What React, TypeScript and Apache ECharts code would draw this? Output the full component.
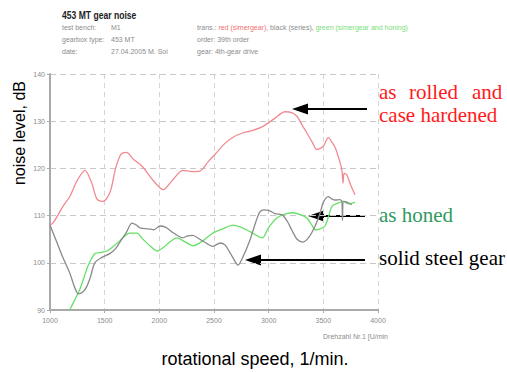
import React, { useEffect, useRef } from "react";
import * as echarts from "echarts";

const xTicks = [1000, 1500, 2000, 2500, 3000, 3500, 4000];
const yTicks = [90, 100, 110, 120, 130, 140];

const redRpm = [1000, 1030, 1120, 1180, 1250, 1320, 1380, 1430, 1485, 1550, 1600, 1650, 1700, 1760, 1840, 1960, 2035, 2120, 2215, 2300, 2370, 2450, 2510, 2600, 2675, 2760, 2830, 2940, 3050, 3150, 3210, 3260, 3310, 3350, 3400, 3440, 3500, 3545, 3580, 3610, 3650, 3670, 3680, 3690, 3715, 3750, 3790];
const redDb = [108, 108.5, 112, 114, 117.5, 119.6, 117, 113.5, 113, 115, 120, 123, 123.4, 122, 120.5, 117, 115.5, 117.5, 119.6, 119.3, 119.4, 121.5, 123, 125.3, 126.6, 127.5, 127.9, 128.8, 130.5, 132, 131.8, 131, 129, 127.5, 125.5, 124, 124.7, 126.5, 125.5, 124.3, 121.5, 119.6, 116.9, 119, 118.6, 116.5, 114.4];

const blackRpm = [1000, 1060, 1120, 1183, 1230, 1260, 1300, 1335, 1370, 1410, 1480, 1550, 1600, 1640, 1700, 1750, 1790, 1823, 1900, 1950, 2005, 2060, 2130, 2215, 2260, 2305, 2370, 2440, 2490, 2555, 2600, 2650, 2700, 2720, 2760, 2830, 2880, 2920, 2960, 3010, 3060, 3120, 3170, 3210, 3260, 3315, 3370, 3425, 3470, 3500, 3545, 3580, 3610, 3650, 3670, 3675, 3685, 3720, 3760];
const blackDb = [108, 104.5, 101, 97.7, 94.5, 93.4, 93.8, 94.9, 97, 100, 101.2, 102, 103, 104.4, 106.5, 108.4, 108, 107.4, 107.2, 107, 107.8, 107.5, 106.3, 105.3, 105.7, 105.8, 105, 104, 103.5, 104.2, 103.8, 102, 100, 99.5, 101, 104.9, 108.5, 110.8, 111.2, 111, 110.4, 110.2, 108.8, 107, 105, 104.4, 105.5, 107.8, 110.5, 112.8, 114, 113.5, 113.3, 113.4, 113, 109, 113, 112.8, 112.3];

const greenRpm = [1180, 1230, 1275, 1320, 1350, 1410, 1470, 1520, 1580, 1640, 1690, 1730, 1795, 1850, 1920, 1980, 2040, 2100, 2160, 2230, 2310, 2400, 2490, 2580, 2675, 2750, 2830, 2940, 3000, 3075, 3150, 3220, 3290, 3350, 3400, 3425, 3470, 3515, 3550, 3580, 3630, 3680, 3730, 3790];
const greenDb = [90, 92.3, 94.5, 97.5, 99.5, 101.9, 102.2, 102.5, 103.5, 104.7, 105.8, 106.3, 106.3, 105, 103.5, 102.5, 103.3, 104.5, 105.3, 104.5, 103.6, 104.7, 106.3, 107.2, 108, 107.5, 106.6, 105.3, 107.5, 109.5, 110.3, 110.6, 110.2, 109.5, 107.8, 107, 107.2, 107.8, 110, 112, 112.6, 113, 112.5, 112.8];

const pairs = (xs: number[], ys: number[]) => xs.map((x, i) => [x, ys[i]]);

const sans = "Liberation Sans, Arial, sans-serif";
const serif = "Liberation Serif, Times New Roman, serif";
const grey = "#8c8c8c";

function arrow(x1: number, x2: number, y: number) {
  return [
    { type: "line", shape: { x1, y1: y, x2: x2 + 12, y2: y }, style: { stroke: "#000", lineWidth: 2.2 } },
    { type: "polygon", shape: { points: [[x2, y], [x2 + 16, y - 5.5], [x2 + 16, y + 5.5]] }, style: { fill: "#000" } },
  ];
}

function txt(x: number, y: number, text: string, size: number, color: string, font = sans, weight = "normal", align = "left", scaleX = 1) {
  return {
    type: "text",
    x,
    y,
    scaleX,
    style: { text, fontSize: size, fill: color, fontFamily: font, fontWeight: weight, textAlign: align, textVerticalAlign: "middle" },
  };
}

export default function App() {
  const ref = useRef<HTMLDivElement>(null);
  useEffect(() => {
    if (!ref.current) return;
    const chart = echarts.init(ref.current, null, { renderer: "svg" });
    chart.setOption({
      animation: false,
      backgroundColor: "#fff",
      grid: { left: 50, right: 129, top: 74, bottom: 62 },
      xAxis: {
        type: "value",
        min: xTicks[0],
        max: xTicks[xTicks.length - 1],
        interval: 500,
        axisLine: { lineStyle: { color: "#aaa", width: 2 } },
        axisTick: { show: true, length: 3, lineStyle: { color: "#aaa" } },
        axisLabel: { fontSize: 7, color: grey, margin: 7, fontFamily: sans, formatter: (v: number) => String(v) },
        splitLine: { show: true, lineStyle: { color: "#d4d4d4", type: [5, 4] } },
      },
      yAxis: {
        type: "value",
        min: yTicks[0],
        max: yTicks[yTicks.length - 1],
        interval: 10,
        axisLine: { show: true, lineStyle: { color: "#aaa", width: 2 } },
        axisTick: { show: true, length: 3, lineStyle: { color: "#aaa" } },
        axisLabel: { fontSize: 7, color: grey, margin: 5, fontFamily: sans },
        splitLine: { show: true, lineStyle: { color: "#c8c8c8", type: [6, 4] } },
      },
      series: [
        { type: "line", data: pairs(redRpm, redDb), smooth: 0.3, showSymbol: false, lineStyle: { color: "#f08a90", width: 1.3 } },
        { type: "line", data: pairs(greenRpm, greenDb), smooth: 0.3, showSymbol: false, lineStyle: { color: "#66e066", width: 1.3 } },
        { type: "line", data: pairs(blackRpm, blackDb), smooth: 0.3, showSymbol: false, lineStyle: { color: "#8a8a8a", width: 1.3 } },
      ],
      graphic: [
        txt(62, 15, "453 MT gear noise", 11, "#222", sans, "bold", "left", 0.78),
        txt(62, 27, "test bench:", 7, grey),
        txt(111, 27, "M1", 7, grey),
        txt(62, 39, "gearbox type:", 7, grey),
        txt(111, 39, "453 MT", 7, grey),
        txt(62, 51, "date:", 7, grey),
        txt(111, 51, "27.04.2005 M. Soi", 7, grey),
        {
          type: "text",
          x: 197,
          y: 27,
          style: {
            text: "{k|trans.: }{r|red (simergear)}{k|, black (series), }{g|green (simergear and honing)}",
            fontSize: 7,
            fontFamily: sans,
            textVerticalAlign: "middle",
            rich: { k: { fill: grey, fontSize: 7 }, r: { fill: "#f07070", fontSize: 7 }, g: { fill: "#7ae07a", fontSize: 7 } },
          },
        },
        txt(197, 39, "order: 39th order", 7, grey),
        txt(197, 51, "gear: 4th-gear drive", 7, grey),
        {
          type: "text",
          x: 19,
          y: 133,
          rotation: Math.PI / 2,
          style: { text: "noise level, dB", fontSize: 16, fill: "#000", fontFamily: sans, textAlign: "center", textVerticalAlign: "middle" },
        },
        txt(255, 359, "rotational speed, 1/min.", 18, "#000", sans, "normal", "center"),
        txt(388, 336, "Drehzahl Nr.1 [U/min", 7, grey, sans, "normal", "right"),
        txt(379, 92, "as", 21, "#ff1a1a", serif),
        txt(409, 92, "rolled", 21, "#ff1a1a", serif),
        txt(472, 92, "and", 21, "#ff1a1a", serif),
        txt(379, 115, "case hardened", 21, "#ff1a1a", serif),
        txt(379, 215, "as honed", 21, "#2e9a5e", serif),
        txt(379, 258, "solid steel gear", 21, "#000", serif),
        ...arrow(367, 292, 109),
        ...arrow(365, 308, 216),
        ...arrow(365, 245, 260),
      ],
    });
    return () => chart.dispose();
  }, []);
  return <div ref={ref} style={{ position: "absolute", left: 0, top: 0, width: 507, height: 372 }} />;
}
